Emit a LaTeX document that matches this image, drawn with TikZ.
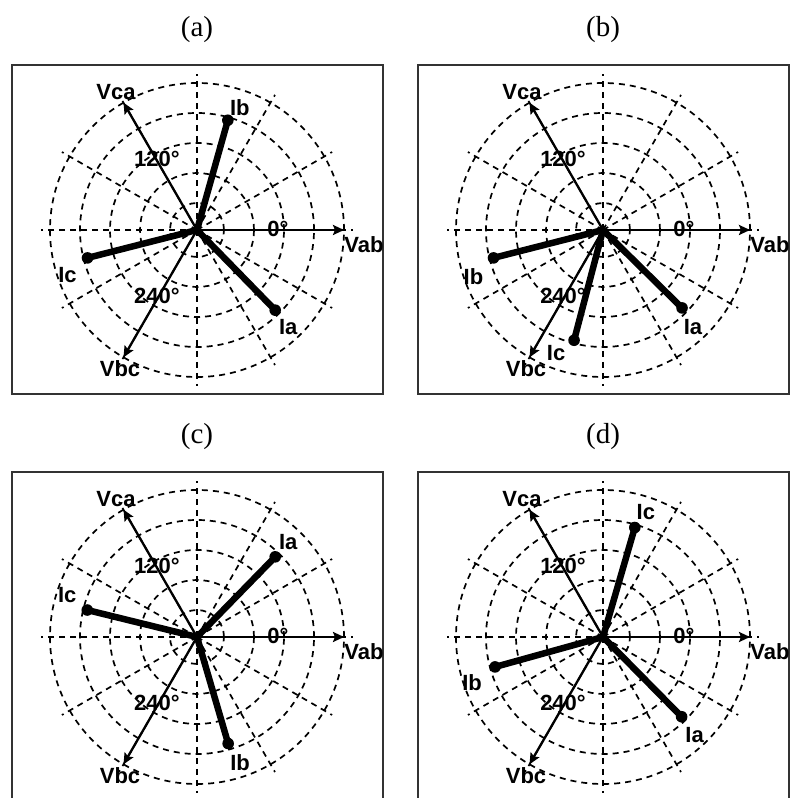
\documentclass[tikz,border=0pt]{standalone}
\usepackage{fontspec}
\setmainfont{Liberation Serif}
\newfontfamily\labfont{Liberation Sans}
\usetikzlibrary{arrows.meta,calc}
\tikzset{
  gridline/.style={line width=1.7pt,dash pattern=on 6pt off 5pt,black},
  volt/.style={line width=2.3pt,-{Stealth[length=11pt,width=10pt,inset=2pt]}},
  curr/.style={line width=6.5pt,line cap=round},
  frame/.style={line width=2.2pt,black!80},
  lab/.style={font=\labfont\bfseries\fontsize{22}{23}\selectfont,inner sep=0pt},
  ttl/.style={font=\fontsize{29}{30}\selectfont,inner sep=0pt},
}
\newcommand\polargrid[1]{%
  \foreach \r in {27,57,87,117,147} \draw[gridline] (0,0) circle[radius=\r];
  \foreach \a in {0,30,...,330} \draw[gridline] (0,0) -- (\a:156);
  \coordinate (#1o) at (0,0);
  \coordinate (#1vab) at (0:147);
  \coordinate (#1vca) at (120:147);
  \coordinate (#1vbc) at (240:147);
  \draw[volt] (#1o) -- (#1vab);
  \draw[volt] (#1o) -- (#1vca);
  \draw[volt] (#1o) -- (#1vbc);
  \node[lab] (#1vabl) at (167,-15) {Vab};
  \node[lab] (#1vcal) at (-81,138) {Vca};
  \node[lab] (#1vbcl) at (-77,-139) {Vbc};
  \node[lab] (#1d0) at (81,1) {0°};
  \node[lab] (#1d120) at (-40,71) {120°};
  \node[lab] (#1d240) at (-40,-66) {240°};
}
\newcommand\cur[6]{%
  \coordinate (#1#2) at (#3:#6);
  \draw[curr] (#1o) -- (#1#2);
  \fill (#1#2) circle[radius=5.8];
  \node[lab] (#1#2l) at ($(#1#2)+(#5)$) {#4};
}
\begin{document}
\begin{tikzpicture}[x=1pt,y=1pt]
\clip (0,0) rectangle (790,798);
\fill[white] (0,0) rectangle (790,798);
% titles
\node[ttl] (ta) at (197,768) {(a)};
\node[ttl] (tb) at (603,768) {(b)};
\node[ttl] (tc) at (197,361) {(c)};
\node[ttl] (td) at (603,361) {(d)};
% frames
\draw[frame] (12,733) rectangle (383,404);
\draw[frame] (418,733) rectangle (789,404);
\draw[frame] (12,326) rectangle (383,-10);
\draw[frame] (418,326) rectangle (789,-10);
% panel a
\begin{scope}[shift={(197,568)}]
  \polargrid{a}
  \cur{a}{ia}{-45.7}{Ia}{13,-17}{112}
  \cur{a}{ib}{74.3}{Ib}{12,13}{114}
  \cur{a}{ic}{194.3}{Ic}{-20,-17}{113}
\end{scope}
% panel b
\begin{scope}[shift={(603,568)}]
  \polargrid{b}
  \cur{b}{ia}{-44.6}{Ia}{11,-19}{111}
  \cur{b}{ib}{194.3}{Ib}{-20,-19}{113}
  \cur{b}{ic}{255.3}{Ic}{-18,-13}{114}
\end{scope}
% panel c
\begin{scope}[shift={(197,161)}]
  \polargrid{c}
  \cur{c}{ia}{45.7}{Ia}{13,15}{112}
  \cur{c}{ib}{-73.7}{Ib}{12,-19}{111}
  \cur{c}{ic}{166.2}{Ic}{-20,15}{113}
\end{scope}
% panel d
\begin{scope}[shift={(603,161)}]
  \polargrid{d}
  \cur{d}{ia}{-45.4}{Ia}{13,-18}{112}
  \cur{d}{ib}{195.5}{Ib}{-23,-16}{112}
  \cur{d}{ic}{73.8}{Ic}{11,15}{114}
\end{scope}
\end{tikzpicture}
\end{document}
